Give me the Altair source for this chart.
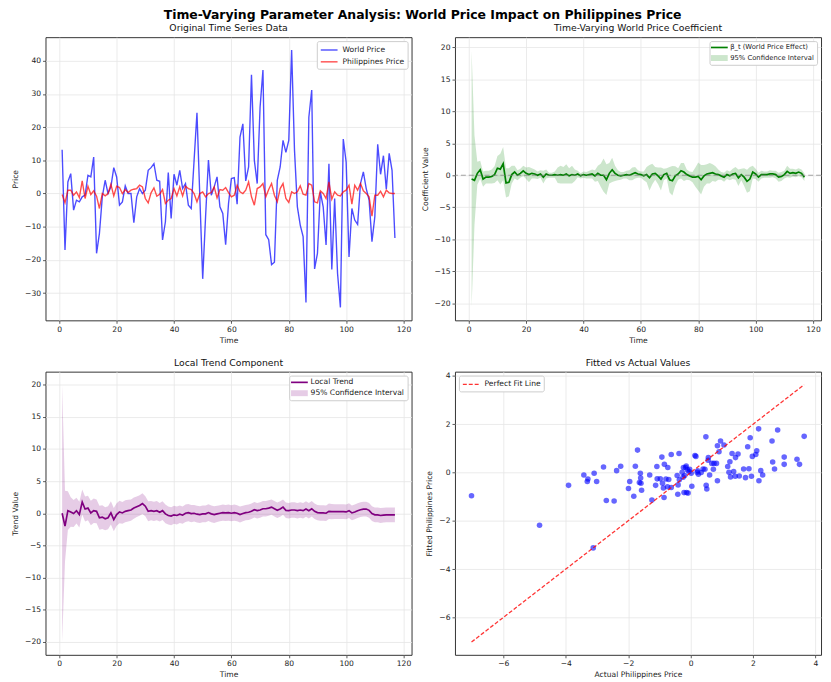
import altair as alt
import pandas as pd

FONT = "DejaVu Sans"

TIME = list(range(1, 118))

WORLD_PRICE = [13.2, -17.0, 3.5, 6.0, -5.0, -2.0, -2.5, -1.0, -0.5, 5.5,
               5.0, 11.0, -18.0, -12.0, -1.0, 4.0, 0.0, 2.0, 7.8, 5.0,
               -3.5, -2.5, 2.3, 0.0, 0.0, -8.8, -1.0, 1.5, 0.0, 1.0,
               7.0, 7.8, 9.0, 4.0, 3.7, -14.0, -8.5, 6.3, -7.5, 5.8,
               2.5, 7.0, 1.5, 3.0, -3.5, -4.5, 10.0, 24.3, -1.0, -25.7,
               -7.0, 10.1, -0.5, 2.0, 5.0, -4.0, -6.0, -15.4, -3.0, 4.5,
               4.8, -3.2, 17.0, 21.0, 3.8, 8.0, 35.8, 10.0, 3.0, 26.0,
               37.2, -12.4, -13.9, -21.4, -20.7, 4.0, 8.0, 16.0, 12.4, 16.0,
               43.2, 13.0, -4.0, -9.5, -13.0, -32.8, 23.0, 31.2, -22.7, -18.0,
               0.5, -4.0, -15.5, 9.0, -22.9, -1.5, -24.0, -34.3, 16.4, 9.5,
               -19.1, -4.5, -8.0, -9.3, 3.0, 6.5, 1.5, -2.0, -14.5, -7.0,
               14.8, 5.8, 11.4, 1.3, 12.1, 7.0, -13.4]

PHIL_PRICE = [-0.3, -2.8, 1.0, 1.0, -0.5, 0.5, -1.2, 3.8, -1.5, 2.2,
              -0.3, 0.8, -0.8, -4.5, 0.0, -0.7, 0.0, 2.8, -0.7, 2.2,
              1.8, 0.0, 1.2, 0.3, 1.0, 1.3, 1.5, 2.5, 2.0, -1.5,
              -2.8, 0.2, 1.7, -0.8, -0.2, 1.2, -3.0, -2.0, -1.5, 1.5,
              -0.7, 2.0, -0.7, 2.2, 1.5, 1.2, 0.0, -2.5, 0.0, 0.5,
              -1.0, 0.0, 0.3, 2.0, -1.3, 1.2, 1.0, 1.8, 0.3, -1.0,
              -0.5, 2.5, 0.5, 0.0, 1.0, 3.5, -1.0, -3.5, 1.5, 2.0,
              3.0, -1.0, 1.2, 3.0, -0.5, -2.5, 1.5, 3.0, -1.5, -2.7,
              0.5, 0.0, 0.5, 2.3, -0.2, -0.5, 3.0, 2.5, -2.5, -2.8,
              0.8, 0.0, -1.5, 3.5, -1.7, 0.5, -0.5, -0.7, 0.5, 1.0,
              2.5, -3.2, 2.5, 1.0, 3.0, 0.8, 0.0, -1.0, -6.8, -0.5,
              -0.5, 0.7, -1.0, 1.0, 0.2, 0.0, 0.0]

BETA = [-0.6, -0.8, 0.3, 0.85, -0.6, -0.3, -0.3, -0.2, 0.1, 1.1,
        0.95, 1.8, -1.2, -1.1, 0.1, 0.5, 0.0, 0.3, 0.7, 0.3,
        0.1, 0.3, 0.2, 0.0, 0.2, -0.3, 0.2, 0.0, 0.0, 0.1,
        0.0, 0.1, 0.0, 0.2, -0.1, 0.1, 0.0, 0.2, -0.1, 0.1,
        0.0, 0.1, 0.2, -0.1, 0.3, 0.0, 0.0, -0.7, 0.3, 0.85,
        0.3, 0.0, -0.1, 0.0, 0.1, 0.0, 0.2, 0.4, 0.2, 0.1,
        -0.1, 0.1, -0.4, 0.2, 0.3, -0.1, -0.6, 0.1, 0.3, -0.7,
        -0.85, -0.1, 0.2, 0.7, 0.5, 0.1, -0.1, -0.3, -0.3, -0.2,
        -0.7, -0.1, 0.2, 0.3, 0.4, 0.2, 0.1, -0.1, -0.3, 0.1,
        -0.1, 0.2, 0.3, -0.4, 0.1, -0.3, -0.95, -0.6, 0.5, 0.2,
        -0.3, 0.1, 0.1, 0.1, 0.2, 0.2, 0.1, -0.3, -0.2, 0.1,
        0.6, 0.3, 0.4, 0.3, 0.5, 0.3, -0.3]

BETA_HALF_WIDTH = [20.1, 7.0, 1.8, 1.4, 1.2, 1.0, 1.0, 1.1, 1.3, 1.9,
                   2.4, 2.6, 2.3, 2.2, 1.4, 1.0, 0.8, 0.7, 0.8, 0.9,
                   1.2, 0.8, 0.7, 0.6, 0.6, 1.0, 0.7, 0.4, 0.4, 0.5,
                   1.2, 1.4, 1.3, 1.5, 1.2, 1.4, 0.9, 0.5, 0.4, 0.5,
                   0.5, 0.6, 0.7, 0.9, 1.2, 1.8, 2.6, 2.4, 1.6, 1.9,
                   1.2, 0.8, 0.6, 0.5, 0.6, 0.8, 1.0, 0.9, 0.6, 0.5,
                   0.7, 1.2, 2.0, 1.6, 1.0, 1.3, 1.8, 0.9, 0.8, 2.0,
                   2.3, 1.5, 0.9, 1.2, 1.4, 0.8, 0.7, 0.8, 1.5, 2.2,
                   2.3, 1.7, 1.5, 1.6, 1.3, 1.2, 0.8, 0.6, 0.7, 0.7,
                   0.7, 0.8, 1.0, 1.3, 0.9, 1.4, 1.8, 1.9, 1.0, 0.8,
                   0.7, 0.6, 0.5, 0.5, 0.6, 0.5, 0.6, 0.7, 0.7, 0.6,
                   0.9, 0.7, 0.6, 0.6, 0.6, 0.6, 0.6]

TREND = [0.0, -2.0, 0.4, 0.2, -0.05, 0.4, -0.2, 1.75, 0.65, 0.8,
         0.05, 0.4, 0.3, -0.7, -0.6, -0.85, -0.7, 0.05, -1.0, -0.2,
         0.2, 0.05, 0.3, 0.4, 0.5, 0.8, 1.0, 1.2, 1.5, 1.1,
         0.3, 0.4, 0.3, 0.4, 0.15, 0.4, -0.1, -0.35, -0.45, -0.25,
         -0.35, -0.15, -0.3, 0.0, 0.1, -0.05, 0.0, -0.15, -0.2, -0.1,
         -0.1, 0.1, -0.1, -0.2, -0.1, 0.0, 0.1, 0.05, 0.1, 0.0,
         0.1, 0.0, -0.2, -0.05, 0.1, 0.15, 0.3, 0.55, 0.4, 0.5,
         0.7, 0.7, 0.8, 0.95, 0.7, 0.45, 0.65, 0.95, 0.45, 0.4,
         0.5, 0.5, 0.4, 0.5, 0.4, 0.65, 0.4, 0.7, 0.3, 0.1,
         0.05, 0.05, 0.0, 0.3, 0.25, 0.25, 0.25, 0.25, 0.25, 0.2,
         0.4, 0.05, 0.2, 0.4, 0.55, 0.65, 0.65, 0.45, -0.05, -0.25,
         -0.25, -0.35, -0.3, -0.25, -0.25, -0.25, -0.25]

TREND_HALF_WIDTH = [20.0, 5.5, 3.0, 2.3, 2.1, 2.0, 2.0, 1.95, 1.95, 1.9,
                    1.9, 1.9, 1.85, 1.85, 1.85, 1.8, 1.8, 1.8, 1.8, 1.75,
                    1.75, 1.7, 1.7, 1.7, 1.65, 1.65, 1.6, 1.6, 1.6, 1.55,
                    1.55, 1.5, 1.5, 1.5, 1.45, 1.45, 1.45, 1.4, 1.4, 1.4,
                    1.4, 1.35, 1.35, 1.35, 1.35, 1.35, 1.3, 1.3, 1.3, 1.3,
                    1.3, 1.3, 1.3, 1.3, 1.25, 1.25, 1.25, 1.25, 1.25, 1.25,
                    1.25, 1.25, 1.25, 1.2, 1.2, 1.2, 1.2, 1.2, 1.2, 1.2,
                    1.2, 1.2, 1.2, 1.2, 1.2, 1.2, 1.2, 1.2, 1.2, 1.2,
                    1.2, 1.2, 1.2, 1.2, 1.2, 1.2, 1.2, 1.2, 1.2, 1.2,
                    1.2, 1.2, 1.2, 1.2, 1.2, 1.15, 1.15, 1.15, 1.15, 1.15,
                    1.15, 1.15, 1.15, 1.15, 1.15, 1.15, 1.15, 1.15, 1.15, 1.15,
                    1.15, 1.15, 1.15, 1.15, 1.15, 1.15, 1.15]

ACTUAL = [-7.02, -4.84, -3.12, -3.91, -3.42, -3.31, -3.29, -3.09, -3.01, -2.79,
          -2.70, -2.45, -2.37, -2.24, -1.99, -1.95, -1.82, -1.77, -1.70, -1.61,
          -1.60, -1.59, -1.57, -1.64, -1.31, -1.24, -1.12, -1.08, -1.07, -0.97,
          -0.92, -0.90, -0.87, -0.85, -0.84, -0.79, -0.73, -0.74, -0.70, -0.62,
          -0.62, -0.43, -0.40, -0.37, -0.41, -0.36, -0.27, -0.24, -0.23, -0.21,
          -0.19, -0.16, -0.14, -0.13, -0.10, -0.08, -0.05, -0.03, 0.02, 0.04,
          0.14, 0.17, 0.21, 0.23, 0.25, 0.34, 0.40, 0.46, 0.49, 0.50,
          0.52, 0.56, 0.57, 0.61, 0.68, 0.73, 0.75, 0.83, 0.86, 0.86,
          0.91, 0.96, 1.07, 1.19, 1.23, 1.26, 1.28, 1.33, 1.38, 1.43,
          1.44, 1.52, 1.56, 1.70, 1.76, 1.83, 1.87, 1.91, 1.95, 1.98,
          2.09, 2.12, 2.18, 2.19, 2.25, 2.31, 2.61, 2.63, 2.69, 2.79,
          3.00, 3.00, 3.41, 3.49, 3.64]

FITTED = [-0.96, -2.18, -3.12, -0.53, -0.10, -0.37, -0.27, -0.03, -0.37, 0.23,
          -1.16, -1.18, 0.08, 0.26, -0.66, -0.37, -0.98, 0.26, 0.93, -0.03,
          -0.23, -0.44, -0.73, -0.41, -0.10, -1.14, -0.53, 0.25, -0.26, -0.26,
          0.64, -0.44, -0.64, -1.03, 0.34, -0.27, 0.21, -0.59, -0.29, 0.75,
          -0.62, -0.12, -0.51, 0.79, -0.90, -0.30, 0.01, -0.19, 0.21, -0.83,
          -0.12, 0.21, 0.27, -0.83, 0.11, -0.85, 0.04, 0.14, -0.03, -0.57,
          0.71, 0.67, 0.01, 0.07, -0.07, 0.00, 0.15, 0.14, 1.48, -0.53,
          -0.68, 0.51, 0.62, -0.10, 0.38, 0.14, 0.38, 0.38, -0.34, 1.11,
          0.86, 1.31, 1.14, 0.25, 0.01, 0.45, -0.18, 0.79, 0.04, -0.15,
          0.62, 0.77, -0.14, 0.15, -0.21, 1.07, 0.16, 1.44, -0.15, 0.67,
          0.75, 0.90, 1.81, -0.34, 0.08, -0.10, 1.31, 0.44, 0.15, 1.76,
          0.64, 0.34, 0.55, 0.34, 1.50]

ZERO_LINE = [0]

WORLD_LABEL = "World Price"
PHIL_LABEL = "Philippines Price"
BETA_LABEL = "β_t (World Price Effect)"
CI_LABEL = "95% Confidence Interval"
TREND_LABEL = "Local Trend"
FIT_LABEL = "Perfect Fit Line"

W, H = 371, 287
LINE_PATH = "M-1.7,0H1.7"
RECT_PATH = "M-1.7,-0.6H1.7V0.6H-1.7Z"


def legend(orient, symbol_type, font_size=7.7, **kw):
    return alt.Legend(title=None, orient=orient, offset=4, padding=3,
                      fillColor="white", strokeColor="#cccccc", cornerRadius=2,
                      labelFont=FONT, labelFontSize=font_size, labelColor="#222222",
                      symbolSize=100, symbolType=symbol_type, symbolOffset=3.5,
                      labelOffset=7.5, **kw)


def time_x():
    return alt.X("Time:Q", scale=alt.Scale(domain=[-4.8, 122.8], nice=False, zero=False),
                 axis=alt.Axis(values=[0, 20, 40, 60, 80, 100, 120], title="Time", labelFlush=False))


def y_enc(field, domain, values, title):
    return alt.Y(f"{field}:Q", scale=alt.Scale(domain=domain, nice=False, zero=False),
                 axis=alt.Axis(values=values, title=title, labelFlush=False, labelOverlap=False))


# ---------- Panel 1 ----------
ts = pd.DataFrame({
    "Time": TIME + TIME,
    "Price": WORLD_PRICE + PHIL_PRICE,
    "Series": [WORLD_LABEL] * len(TIME) + [PHIL_LABEL] * len(TIME),
})
p1 = alt.Chart(ts).mark_line(opacity=0.7, strokeWidth=1.4, clip=True).encode(
    x=time_x(),
    y=y_enc("Price", [-38.2, 47.1], [-30, -20, -10, 0, 10, 20, 30, 40], "Price"),
    color=alt.Color("Series:N",
                    scale=alt.Scale(domain=[WORLD_LABEL, PHIL_LABEL], range=["#0000ff", "#ff0000"]),
                    legend=legend("top-right", LINE_PATH, symbolStrokeWidth=1.4, rowPadding=2)),
).properties(width=W, height=H, title="Original Time Series Data")


# ---------- Panel 2 ----------
beta_df = pd.DataFrame({
    "Time": TIME,
    "beta": BETA,
    "lo": [b - h for b, h in zip(BETA, BETA_HALF_WIDTH)],
    "hi": [b + h for b, h in zip(BETA, BETA_HALF_WIDTH)],
    "Series": [BETA_LABEL] * len(TIME),
})
b_dom = [-22.7, 21.6]
b_vals = [-20, -15, -10, -5, 0, 5, 10, 15, 20]


def mixed_legend(color, font_size, row_pad):
    is_ci = f"datum.value == '{CI_LABEL}'"
    return legend("top-right", {"expr": f"{is_ci} ? '{RECT_PATH}' : '{LINE_PATH}'"},
                  font_size=font_size, rowPadding=row_pad,
                  symbolFillColor={"expr": f"{is_ci} ? '{color}' : 'transparent'"},
                  symbolOpacity={"expr": f"{is_ci} ? 0.2 : 1"},
                  symbolStrokeWidth={"expr": f"{is_ci} ? 0 : 1.7"})


band2 = alt.Chart(beta_df).mark_area(color="#008000", opacity=0.2, clip=True).encode(
    x=time_x(), y=y_enc("lo", b_dom, b_vals, "Coefficient Value"), y2="hi:Q")
rule2 = alt.Chart(pd.DataFrame({"zero": ZERO_LINE})).mark_rule(
    color="#808080", strokeDash=[5, 3], opacity=0.7, strokeWidth=1.1).encode(
    y=y_enc("zero", b_dom, b_vals, "Coefficient Value"))
line2 = alt.Chart(beta_df).mark_line(strokeWidth=1.7, clip=True).encode(
    x=time_x(), y=y_enc("beta", b_dom, b_vals, "Coefficient Value"),
    color=alt.Color("Series:N", scale=alt.Scale(domain=[BETA_LABEL, CI_LABEL], range=["#008000", "#008000"]),
                    legend=mixed_legend("#008000", 6.9, 2.7)))
p2 = alt.layer(band2, line2, rule2).properties(width=W, height=H, title="Time-Varying World Price Coefficient")


# ---------- Panel 3 ----------
trend_df = pd.DataFrame({
    "Time": TIME,
    "trend": TREND,
    "lo": [t - h for t, h in zip(TREND, TREND_HALF_WIDTH)],
    "hi": [t + h for t, h in zip(TREND, TREND_HALF_WIDTH)],
    "Series": [TREND_LABEL] * len(TIME),
})
t_dom = [-22.0, 22.0]
band3 = alt.Chart(trend_df).mark_area(color="#800080", opacity=0.2, clip=True).encode(
    x=time_x(), y=y_enc("lo", t_dom, b_vals, "Trend Value"), y2="hi:Q")
line3 = alt.Chart(trend_df).mark_line(strokeWidth=1.7, clip=True).encode(
    x=time_x(), y=y_enc("trend", t_dom, b_vals, "Trend Value"),
    color=alt.Color("Series:N", scale=alt.Scale(domain=[TREND_LABEL, CI_LABEL], range=["#800080", "#800080"]),
                    legend=mixed_legend("#800080", 7.7, 2)))
p3 = alt.layer(band3, line3).properties(width=W, height=H, title="Local Trend Component")


# ---------- Panel 4 ----------
sc_df = pd.DataFrame({"Actual": ACTUAL, "Fitted": FITTED})
fit_df = pd.DataFrame({"Actual": [min(ACTUAL), max(ACTUAL)], "Fitted": [min(ACTUAL), max(ACTUAL)],
                       "Series": [FIT_LABEL, FIT_LABEL]})
s_dom = [-7.55, 4.18]
s_vals = [-6, -4, -2, 0, 2, 4]
x4 = alt.X("Actual:Q", scale=alt.Scale(domain=s_dom, nice=False, zero=False),
           axis=alt.Axis(values=s_vals, title="Actual Philippines Price", labelFlush=False))
y4 = y_enc("Fitted", s_dom, s_vals, "Fitted Philippines Price")
pts = alt.Chart(sc_df).mark_circle(size=32, opacity=0.6, color="#0000ff").encode(x=x4, y=y4)
fit = alt.Chart(fit_df).mark_line(strokeDash=[4, 2], opacity=0.8, strokeWidth=1.3).encode(
    x=x4, y=y4,
    color=alt.Color("Series:N", scale=alt.Scale(domain=[FIT_LABEL], range=["#ff0000"]),
                    legend=legend("top-left", LINE_PATH, symbolDash=[4, 2], symbolStrokeWidth=1.3)))
p4 = alt.layer(pts, fit).properties(width=W, height=H, title="Fitted vs Actual Values")


chart = alt.concat(p1, p2, p3, p4, columns=2, spacing={"row": 12, "column": 8}).resolve_scale(
    color="independent"
).properties(
    title=alt.TitleParams(text="Time-Varying Parameter Analysis: World Price Impact on Philippines Price",
                          fontSize=12.6, fontWeight="bold", font=FONT, anchor="middle", offset=2, dx=6,
                          color="#000000", frame="bounds"),
    padding={"left": 3, "top": -4, "right": 0, "bottom": 0},
).configure_view(stroke="#333333", strokeWidth=1).configure_axis(
    labelFont=FONT, labelFontSize=7.7, labelColor="#222222",
    titleFont=FONT, titleFontSize=7.7, titleFontWeight="normal", titleColor="#222222",
    tickColor="#333333", tickSize=3, tickWidth=0.8, labelPadding=2, domain=False,
    grid=True, gridColor="#e6e6e6", gridWidth=0.8,
).configure_axisY(titlePadding=5).configure_axisX(titlePadding=3.5).configure_title(
    font=FONT, fontSize=9.4, fontWeight="normal", color="#111111", offset=3.4, frame="group", anchor="middle"
)

chart.save("out.html", embed_options={"renderer": "svg", "actions": False})
